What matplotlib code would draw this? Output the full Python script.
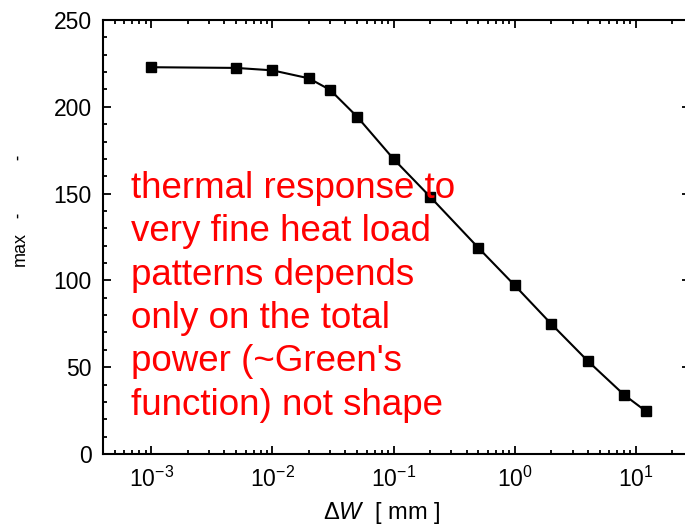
import numpy as np
import matplotlib.pyplot as plt
from matplotlib.ticker import LogLocator, MultipleLocator

plt.rcParams['font.family'] = ['Liberation Sans', 'DejaVu Sans']
plt.rcParams['mathtext.fontset'] = 'custom'
plt.rcParams['mathtext.rm'] = 'Liberation Sans'
plt.rcParams['mathtext.it'] = 'Liberation Sans:italic'

# pattern width vs. peak temperature rise
dw = [0.001, 0.005, 0.01, 0.02, 0.03, 0.05, 0.1, 0.2, 0.5, 1, 2, 4, 8, 12]
tmax = [222.8, 222.4, 221.0, 216.4, 209.7, 194.3, 169.9, 148.2, 118.8,
        97.1, 74.9, 53.6, 34.0, 24.8]

note = ("thermal response to\nvery fine heat load\npatterns depends\n"
        "only on the total\npower (~Green's\nfunction) not shape")

W, H = 685, 527
fig = plt.figure(figsize=(W / 100, H / 100), dpi=100)
ax = fig.add_axes([103 / W, 73 / H, (690 - 103) / W, 434 / H])

ax.plot(dw, tmax, color='black', lw=1.5, marker='s', ms=7,
        mfc='black', mec='black')

ax.set_xscale('log')
ax.set_xlim(4e-4, 27.9)
ax.set_ylim(0, 250)
ax.yaxis.set_major_locator(MultipleLocator(50))
ax.yaxis.set_minor_locator(MultipleLocator(10))
ax.xaxis.set_major_locator(LogLocator(base=10, numticks=20))
ax.xaxis.set_minor_locator(LogLocator(base=10, subs=np.arange(2, 10), numticks=20))

for s in ax.spines.values():
    s.set_linewidth(1.5)
ax.tick_params(which='both', direction='in', top=True, right=True,
               labelsize=16.5, width=1.3)
ax.tick_params(which='major', length=6)
ax.tick_params(which='minor', length=3)
ax.tick_params(axis='x', which='major', pad=9)
ax.tick_params(axis='y', which='major', pad=8)

fig.text(382 / W, 1 - 513 / H, r'$\Delta W$  [ mm ]', fontsize=17,
         ha='center', va='center')

# remnants of the y-axis label
fig.text(20 / W, 1 - 249 / H, 'max', rotation=90, fontsize=13,
         ha='center', va='center')
for yy in (157, 215):
    fig.text(17 / W, 1 - yy / H, '-', rotation=90, fontsize=11,
             fontweight='bold', ha='center', va='center')

ax.text(131 / W, 1 - 171 / H, note, transform=fig.transFigure,
        color='#ff0000', fontsize=26.5, ha='left', va='top', linespacing=1.31)

fig.savefig('out.png', dpi=100)
